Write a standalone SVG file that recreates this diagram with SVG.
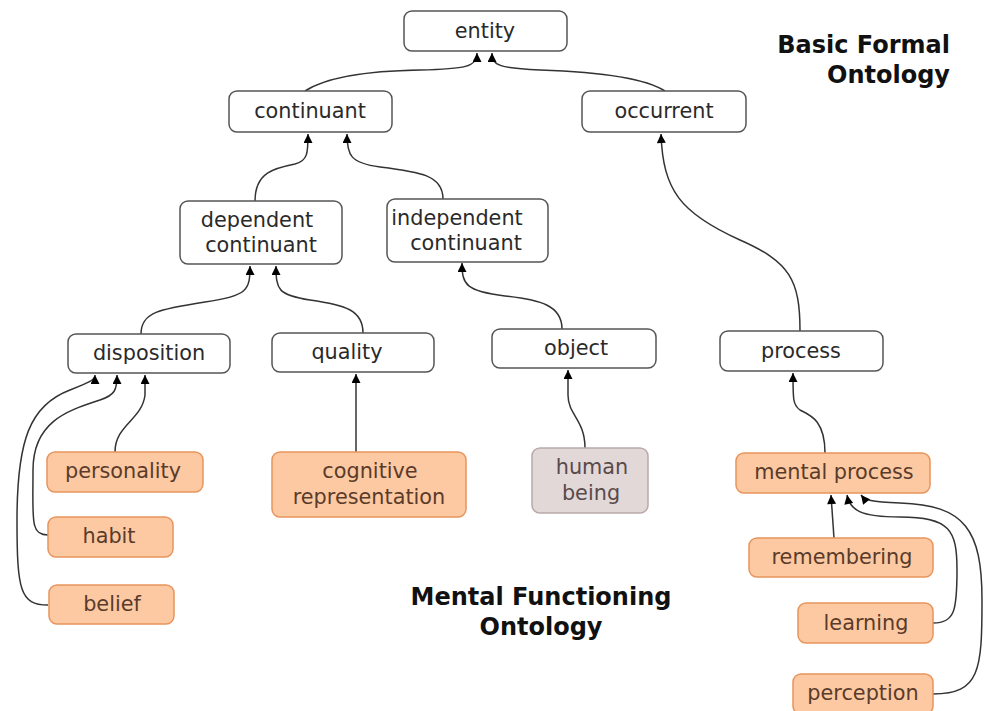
<svg xmlns="http://www.w3.org/2000/svg" width="985" height="711" viewBox="0 0 985 711">
<style>
.n rect{fill:#fff;stroke:#555;stroke-width:1.5}
.m rect{fill:#fdc9a2;stroke:#e8945c;stroke-width:1.5}
.h rect{fill:#e2d8d8;stroke:#bba9a9;stroke-width:1.5}
text{font-family:"DejaVu Sans",Verdana,sans-serif;font-size:20.8px;text-anchor:middle}
.n text{fill:#2a2a2a}
.m text{fill:#5a3b2a}
.h text{fill:#5a4a4a}
.t{font-weight:bold;font-size:24px;fill:#111}
#edges path{fill:none;stroke:#333;stroke-width:1.5;marker-end:url(#ar)}
</style>
<defs>
<marker id="ar" viewBox="0 0 10 10" refX="10" refY="5" markerWidth="11" markerHeight="9" markerUnits="userSpaceOnUse" orient="auto"><path d="M0,0L10,5L0,10z" fill="#000"/></marker>
</defs>
<rect width="985" height="711" fill="#fff"/>
<g id="edges">
<path d="M305,91 C325,78 360,71 420,70 C465,69 477,67 477,53"/>
<path d="M665,91 C645,78 600,72 540,70 C500,68 492,66 492,53"/>
<path d="M255,201 C255,172 275,168 295,164 C308,161 308,152 308,134"/>
<path d="M443,199 C443,175 420,172 380,167 C350,163 347,155 347,134"/>
<path d="M141,334 C141,312 160,309 205,302 C248,296 250,290 250,266"/>
<path d="M363,333 C363,310 345,305 310,300 C278,295 276,290 276,266"/>
<path d="M562,329 C562,305 540,300 505,296 C466,291 462,285 462,263"/>
<path d="M800,331 C800,280 790,262 740,240 C680,213 663,190 661,134"/>
<path d="M115,452 C115,425 142,420 145,395 L145,375"/>
<path d="M48,535 C30,535 33,520 33,470 C33,420 70,410 100,400 C115,395 117,390 117,375"/>
<path d="M48,605 C20,605 17,590 17,520 C17,440 30,405 70,390 C90,382 95,380 95,375"/>
<path d="M356,452 L356,374"/>
<path d="M585,448 C585,420 568,415 568,395 L568,370"/>
<path d="M825,453 C825,420 810,415 800,410 C793,405 793,400 793,373"/>
<path d="M834,538 L831,495"/>
<path d="M933,623 C955,623 957,610 957,570 C957,530 950,517 900,517 C860,517 850,510 847,495"/>
<path d="M933,694 C980,694 982,670 982,600 C982,530 965,505 900,503 C870,502 865,500 861,495"/>
</g>
<g id="entity" class="n"><rect x="404" y="11" width="163" height="40" rx="8"/><text x="485" y="38">entity</text></g>
<g id="continuant" class="n"><rect x="229" y="91" width="163" height="41" rx="8"/><text x="310" y="118">continuant</text></g>
<g id="occurrent" class="n"><rect x="582" y="91" width="164" height="41" rx="8"/><text x="664" y="118">occurrent</text></g>
<g id="dependent_continuant" class="n"><rect x="180" y="201" width="162" height="63" rx="8"/><text x="257" y="227">dependent</text><text x="261" y="252">continuant</text></g>
<g id="independent_continuant" class="n"><rect x="387" y="199" width="161" height="63" rx="8"/><text x="457" y="225">independent</text><text x="466" y="250">continuant</text></g>
<g id="disposition" class="n"><rect x="68" y="334" width="162" height="39" rx="8"/><text x="149" y="360">disposition</text></g>
<g id="quality" class="n"><rect x="272" y="333" width="162" height="39" rx="8"/><text x="347" y="359">quality</text></g>
<g id="object" class="n"><rect x="492" y="329" width="164" height="39" rx="8"/><text x="576" y="355">object</text></g>
<g id="process" class="n"><rect x="720" y="331" width="163" height="40" rx="8"/><text x="801" y="358">process</text></g>
<g id="personality" class="m"><rect x="47" y="452" width="156" height="40" rx="8"/><text x="123" y="478">personality</text></g>
<g id="cognitive_representation" class="m"><rect x="272" y="452" width="194" height="65" rx="8"/><text x="370" y="478">cognitive</text><text x="369" y="504">representation</text></g>
<g id="human_being" class="h"><rect x="532" y="448" width="116" height="65" rx="8"/><text x="592" y="474">human</text><text x="591" y="500">being</text></g>
<g id="mental_process" class="m"><rect x="736" y="453" width="194" height="40" rx="8"/><text x="834" y="479">mental process</text></g>
<g id="habit" class="m"><rect x="48" y="517" width="125" height="40" rx="8"/><text x="109" y="543">habit</text></g>
<g id="belief" class="m"><rect x="49" y="585" width="125" height="39" rx="8"/><text x="112" y="611">belief</text></g>
<g id="remembering" class="m"><rect x="749" y="538" width="184" height="39" rx="8"/><text x="842" y="564">remembering</text></g>
<g id="learning" class="m"><rect x="798" y="603" width="135" height="40" rx="8"/><text x="866" y="630">learning</text></g>
<g id="perception" class="m"><rect x="793" y="674" width="140" height="40" rx="8"/><text x="863" y="700">perception</text></g>
<g id="titles">
<text class="t" x="950" y="53" style="text-anchor:end">Basic Formal</text>
<text class="t" x="950" y="83" style="text-anchor:end">Ontology</text>
<text class="t" x="541" y="605">Mental Functioning</text>
<text class="t" x="541" y="635">Ontology</text>
</g>
</svg>
